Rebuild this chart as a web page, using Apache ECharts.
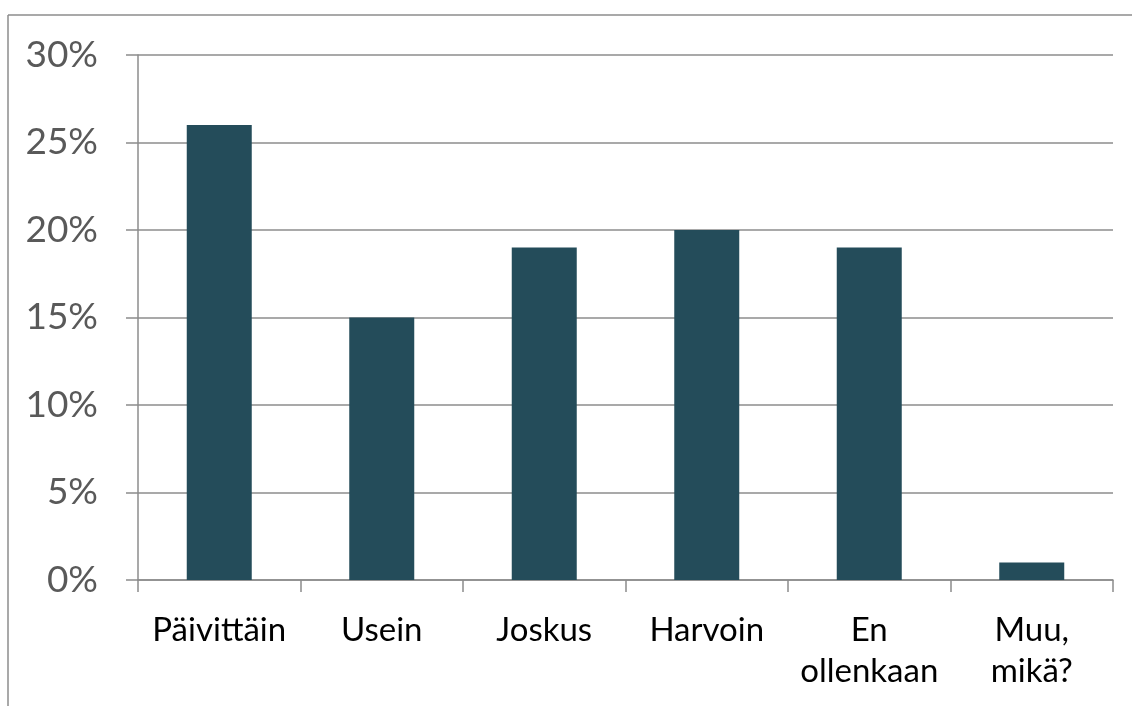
<!DOCTYPE html>
<html>
<head>
<meta charset="utf-8">
<script src="https://cdn.jsdelivr.net/npm/echarts@6/dist/echarts.min.js"></script>
<style>
  html, body { margin: 0; padding: 0; background: #fff; }
  #chart { width: 1132px; height: 706px; }
</style>
</head>
<body>
<div id="chart"></div>
<script>
// Response frequency categories and their shares (%)
const categories = ['Päivittäin', 'Usein', 'Joskus', 'Harvoin', 'En\nollenkaan', 'Muu,\nmikä?'];
const shares = [26, 15, 19, 20, 19, 1];
const yTicks = { min: 0, max: 30, interval: 5 };

const gray = '#8c8c8c';
const fontFamily = 'Lato, "Noto Sans", sans-serif';

const chart = echarts.init(document.getElementById('chart'), null, { renderer: 'canvas' });
chart.setOption({
  animation: false,
  backgroundColor: '#ffffff',
  grid: { left: 138, right: 19, top: 55, bottom: 126, containLabel: false },
  graphic: [
    { type: 'line', shape: { x1: 8, y1: 15, x2: 1132, y2: 15 }, style: { stroke: gray, lineWidth: 1.5 }, silent: true },
    { type: 'line', shape: { x1: 8, y1: 15, x2: 8, y2: 706 }, style: { stroke: gray, lineWidth: 1.5 }, silent: true }
  ],
  xAxis: {
    type: 'category',
    data: categories,
    boundaryGap: true,
    axisLine: { show: true, lineStyle: { color: gray, width: 1.5 } },
    axisTick: { show: true, length: 12, alignWithLabel: false, lineStyle: { color: gray, width: 1.5 } },
    axisLabel: {
      color: '#000000',
      fontFamily: fontFamily,
      fontSize: 33,
      lineHeight: 41,
      margin: 30,
      interval: 0
    }
  },
  yAxis: {
    type: 'value',
    min: yTicks.min,
    max: yTicks.max,
    interval: yTicks.interval,
    axisLine: { show: true, lineStyle: { color: gray, width: 1.5 } },
    axisTick: { show: true, length: 12, lineStyle: { color: gray, width: 1.5 } },
    splitLine: { show: true, lineStyle: { color: gray, width: 1.5 } },
    axisLabel: {
      color: '#595959',
      fontFamily: fontFamily,
      fontSize: 37,
      margin: 40,
      formatter: v => v + '%'
    }
  },
  series: [{
    type: 'bar',
    data: shares,
    barWidth: '40%',
    itemStyle: { color: '#244c5a' }
  }]
});
</script>
</body>
</html>
